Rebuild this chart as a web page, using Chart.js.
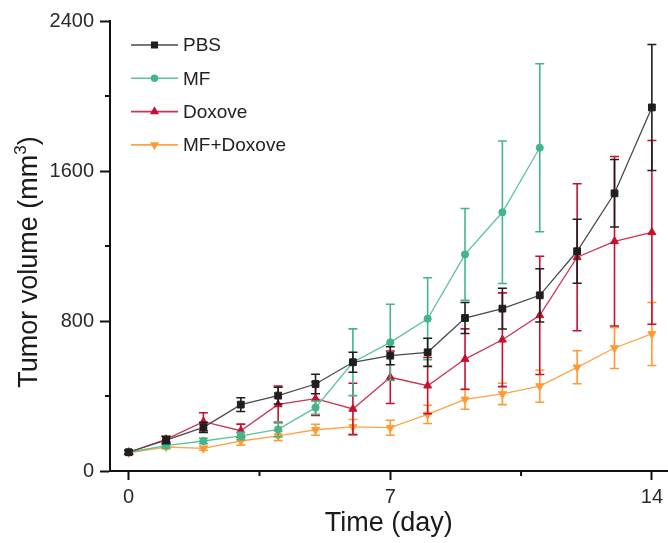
<!DOCTYPE html>
<html>
<head>
<meta charset="utf-8">
<script src="https://cdn.jsdelivr.net/npm/chart.js@4.4.1/dist/chart.umd.min.js"></script>
<style>
  html, body { margin: 0; padding: 0; background: #fff; }
  #wrap { width: 668px; height: 543px; }
</style>
</head>
<body>
<div id="wrap"><canvas id="tumorChart" width="668" height="543"></canvas></div>
<script>
// tumor volume per day (mm3), mean and error
const days = [0, 1, 2, 3, 4, 5, 6, 7, 8, 9, 10, 11, 12, 13, 14];

const pbs    = [100, 165, 233, 354, 402, 464, 580, 615, 633, 816, 866, 937, 1172, 1481, 1939];
const pbsErr = [10, 20, 27, 37, 45, 52, 53, 48, 75, 83, 109, 142, 171, 180, 336];

const mf     = [100, 135, 160, 187, 222, 338, 580, 686, 812, 1155, 1380, 1724];
const mfErr  = [10, 12, 15, 20, 40, 35, 178, 203, 219, 245, 380, 448];

const dox    = [100, 169, 263, 215, 355, 386, 331, 500, 455, 597, 700, 830, 1140, 1225, 1273];
const doxErr = [10, 15, 48, 35, 98, 90, 137, 140, 150, 161, 250, 315, 392, 452, 490];

const mfDox    = [97, 128, 121, 160, 187, 220, 235, 231, 302, 382, 411, 453, 553, 656, 731];
const mfDoxErr = [10, 10, 10, 22, 25, 29, 40, 40, 49, 53, 57, 86, 88, 109, 168];

const xTicks = [0, 7, 14];
const xMinor = [3.5, 10.5];
const yMinor = [400, 1200, 2000];

const FONT = "'Liberation Sans', Arial, sans-serif";

function pts(arr) {
  return arr.map((v, i) => ({ x: days[i], y: v }));
}

// error bars drawn right after each dataset
const errorBars = {
  id: 'errorBars',
  afterDatasetDraw(chart, args) {
    const ds = chart.data.datasets[args.index];
    if (!ds.errors) return;
    const xs = chart.scales.x, ys = chart.scales.y;
    const ctx = chart.ctx;
    ctx.save();
    ctx.strokeStyle = ds.errColor;
    ctx.lineWidth = 1.6;
    ds.data.forEach((p, i) => {
      const e = ds.errors[i];
      const px = xs.getPixelForValue(p.x);
      const top = ys.getPixelForValue(p.y + e);
      const bot = ys.getPixelForValue(p.y - e);
      ctx.beginPath();
      ctx.moveTo(px, top); ctx.lineTo(px, bot);
      ctx.moveTo(px - 4.5, top); ctx.lineTo(px + 4.5, top);
      ctx.moveTo(px - 4.5, bot); ctx.lineTo(px + 4.5, bot);
      ctx.stroke();
    });
    ctx.restore();
  }
};

// minor ticks, y title with superscript, legend
const extras = {
  id: 'extras',
  afterDraw(chart) {
    const ctx = chart.ctx;
    const xs = chart.scales.x, ys = chart.scales.y;
    const area = chart.chartArea;
    ctx.save();
    ctx.strokeStyle = '#111';
    ctx.lineWidth = 2;
    ctx.beginPath();
    xMinor.forEach(v => {
      const px = xs.getPixelForValue(v);
      ctx.moveTo(px, area.bottom); ctx.lineTo(px, area.bottom + 5);
    });
    yMinor.forEach(v => {
      const py = ys.getPixelForValue(v);
      ctx.moveTo(area.left, py); ctx.lineTo(area.left - 5, py);
    });
    ctx.stroke();

    // y axis title
    ctx.fillStyle = '#1a1a1a';
    ctx.translate(37, 262);
    ctx.rotate(-Math.PI / 2);
    ctx.textBaseline = 'alphabetic';
    ctx.textAlign = 'left';
    const main = 'Tumor volume (mm', sup = '3', close = ')';
    ctx.font = '27px ' + FONT;
    const w1 = ctx.measureText(main).width;
    const w3 = ctx.measureText(close).width;
    ctx.font = '17px ' + FONT;
    const w2 = ctx.measureText(sup).width;
    const start = -(w1 + w2 + w3) / 2;
    ctx.font = '27px ' + FONT;
    ctx.fillText(main, start, 0);
    ctx.font = '17px ' + FONT;
    ctx.fillText(sup, start + w1, -11);
    ctx.font = '27px ' + FONT;
    ctx.fillText(close, start + w1 + w2, 0);
    ctx.restore();

    // legend
    ctx.save();
    ctx.font = '19px ' + FONT;
    ctx.textBaseline = 'middle';
    chart.data.datasets.forEach((ds, i) => {
      const y = 45 + i * 33.3;
      ctx.strokeStyle = ds.borderColor;
      ctx.lineWidth = 1.6;
      ctx.beginPath();
      ctx.moveTo(131, y); ctx.lineTo(178, y);
      ctx.stroke();
      ctx.fillStyle = ds.pointBackgroundColor;
      ctx.strokeStyle = ds.pointBackgroundColor;
      Chart.helpers.drawPoint(ctx, {
        pointStyle: ds.pointStyle,
        radius: ds.pointRadius * 0.8,
        rotation: ds.pointRotation || 0,
        borderWidth: 1
      }, 154.5, y);
      ctx.fillStyle = '#222';
      ctx.fillText(ds.label, 183, y + 1);
    });
    ctx.restore();
  }
};

function series(label, data, errs, line, mark, style, radius, rot) {
  return {
    label: label,
    data: pts(data),
    errors: errs,
    errColor: mark,
    borderColor: line,
    borderWidth: 1.3,
    pointStyle: style,
    pointRadius: radius,
    pointRotation: rot || 0,
    pointBackgroundColor: mark,
    pointBorderColor: mark,
    pointBorderWidth: 1,
    tension: 0,
    fill: false
  };
}

new Chart(document.getElementById('tumorChart'), {
  type: 'line',
  data: {
    datasets: [
      series('PBS', pbs, pbsErr, '#4a4a4a', '#1f1f1f', 'rect', 4.8),
      series('MF', mf, mfErr, '#5cc39c', '#43b58b', 'circle', 3.6),
      series('Doxove', dox, doxErr, '#cc3355', '#c8102e', 'triangle', 4.6),
      series('MF+Doxove', mfDox, mfDoxErr, '#ffa24a', '#ff9a33', 'triangle', 4.6, 180)
    ]
  },
  options: {
    responsive: false,
    animation: false,
    layout: { autoPadding: false, padding: { top: 21, left: 0, right: 0, bottom: 0 } },
    plugins: { legend: { display: false }, tooltip: { enabled: false } },
    scales: {
      x: {
        type: 'linear',
        min: -0.5,
        max: 14.42,
        afterBuildTicks: axis => { axis.ticks = xTicks.map(v => ({ value: v })); },
        afterFit: axis => { axis.height = 72; },
        border: { display: true, color: '#111', width: 2 },
        grid: { drawOnChartArea: false, drawTicks: true, tickLength: 9, tickWidth: 2, tickColor: '#111' },
        ticks: { color: '#2a2a2a', font: { family: FONT, size: 20 }, padding: 5, maxRotation: 0 },
        title: {
          display: true,
          text: 'Time (day)',
          color: '#1a1a1a',
          font: { family: FONT, size: 27 },
          padding: { top: 0, bottom: 3 }
        }
      },
      y: {
        min: 0,
        max: 2400,
        ticks: {
          stepSize: 800,
          color: '#2a2a2a',
          font: { family: FONT, size: 20 },
          padding: 6,
          callback: v => String(v)
        },
        afterFit: axis => { axis.width = 110; },
        border: { display: true, color: '#111', width: 2 },
        grid: { drawOnChartArea: false, drawTicks: true, tickLength: 10, tickWidth: 2, tickColor: '#111' }
      }
    }
  },
  plugins: [errorBars, extras]
});
</script>
</body>
</html>
